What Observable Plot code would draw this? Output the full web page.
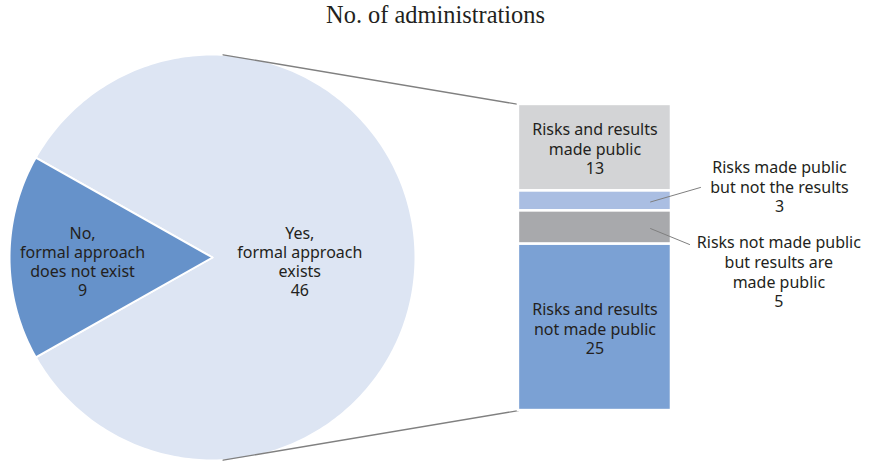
<!DOCTYPE html>
<html><head><meta charset="utf-8">
<script src="https://cdn.jsdelivr.net/npm/d3@7"></script>
<script src="https://cdn.jsdelivr.net/npm/@observablehq/plot@0.6"></script>
<style>
body{margin:0;background:#fff}
#title{font-family:"Liberation Serif","Times New Roman",serif;font-size:24.4px;line-height:30px;height:34px;text-align:center;color:#231f20;width:871px}
</style>
</head><body>
<div id="title">No. of administrations</div>
<div id="chart"></div>
<script>
// ---- data ----
const pieCategories = ["Yes,\nformal approach\nexists", "No,\nformal approach\ndoes not exist"];
const pieValues = [46, 9];
const pieColors = ["#dde5f3", "#6692ca"];

const barCategories = [
  "Risks and results\nmade public",
  "Risks made public\nbut not the results",
  "Risks not made public\nbut results are\nmade public",
  "Risks and results\nnot made public"
];
const barValues = [13, 3, 5, 25];
const barColors = ["#d3d4d6", "#aabee2", "#a8a9ac", "#7ba1d4"];

// ---- layout (units: pie radius = 1) ----
const W = 871, H = 428, Rpx = 203, cx = 212, cy = 223;
const barX1 = 1.507, barX2 = 2.261, barHalf = 0.754;
const pieLabelRadius = [0.43, 0.64];
const barLabelInside = [true, false, false, true];
const extLabelPos = [null, [2.793, -0.35], [2.79, 0.069], null];
const leaderEnd = [null, [2.404, -0.345], [2.35, -0.064], null];
const leaderStartX = 2.158;

// pie geometry
const total = d3.sum(pieValues);
const noSpan = 2 * Math.PI * pieValues[1] / total;
const sliceAngles = [
  [Math.PI + noSpan / 2, 3 * Math.PI - noSpan / 2],
  [Math.PI - noSpan / 2, Math.PI + noSpan / 2]
];
const piePts = [];
pieValues.forEach((v, i) => {
  const [a0, a1] = sliceAngles[i];
  const n = Math.max(8, Math.ceil((a1 - a0) / (2 * Math.PI) * 360));
  piePts.push({k: i, x: 0, y: 0, c: pieColors[i]});
  for (let j = 0; j <= n; j++) {
    const a = a0 + (a1 - a0) * j / n;
    piePts.push({k: i, x: Math.cos(a), y: Math.sin(a), c: pieColors[i]});
  }
  piePts.push({k: i, x: 0, y: 0, c: pieColors[i]});
});
const pieLabels = pieValues.map((v, i) => {
  const a = (sliceAngles[i][0] + sliceAngles[i][1]) / 2;
  return {x: pieLabelRadius[i] * Math.cos(a), y: pieLabelRadius[i] * Math.sin(a), t: pieCategories[i] + "\n" + v};
});

// bar geometry
const barTotal = d3.sum(barValues);
const unit = 2 * barHalf / barTotal;
let cum = 0;
const barRects = barValues.map((v, i) => {
  const r = {y1: -barHalf + cum * unit, y2: -barHalf + (cum + v) * unit, c: barColors[i], i};
  cum += v;
  return r;
});
const inLabels = barRects.filter((r, i) => barLabelInside[i]).map(r => ({
  x: (barX1 + barX2) / 2, y: (r.y1 + r.y2) / 2, t: barCategories[r.i] + "\n" + barValues[r.i]
}));
const outLabels = barRects.filter((r, i) => !barLabelInside[i]).map(r => ({
  x: extLabelPos[r.i][0], y: extLabelPos[r.i][1], t: barCategories[r.i] + "\n" + barValues[r.i]
}));
const leaders = [];
barRects.filter((r, i) => !barLabelInside[i]).forEach(r => {
  leaders.push({k: r.i, x: leaderStartX, y: (r.y1 + r.y2) / 2 + 0.005});
  leaders.push({k: r.i, x: leaderEnd[r.i][0], y: leaderEnd[r.i][1]});
});

// connectors
const ca = 87 * Math.PI / 180;
const connectors = [
  {k: 0, x: Math.cos(-ca), y: Math.sin(-ca)}, {k: 0, x: barX1, y: -barHalf},
  {k: 1, x: Math.cos(ca), y: Math.sin(ca)}, {k: 1, x: barX1, y: barHalf}
];

const font = "Noto Sans";
const txt = "#231f20";
const fs = 16;

const chart = Plot.plot({
  width: W, height: H,
  marginTop: 0, marginRight: 0, marginBottom: 0, marginLeft: 0,
  x: {domain: [-cx / Rpx, (W - cx) / Rpx], range: [0, W], axis: null},
  y: {domain: [-cy / Rpx, (H - cy) / Rpx], range: [0, H], axis: null},
  color: {type: "identity"},
  style: {fontFamily: font, background: "white"},
  marks: [
    Plot.line(piePts, {x: "x", y: "y", z: "k", fill: "c", stroke: "white", strokeWidth: 2, strokeLinejoin: "round"}),
    Plot.line(connectors, {x: "x", y: "y", z: "k", stroke: "#808080", strokeWidth: 1.3}),
    Plot.rect(barRects, {x1: () => barX1, x2: () => barX2, y1: "y1", y2: "y2", fill: "c", stroke: "white", strokeWidth: 2.5}),
    Plot.line(leaders, {x: "x", y: "y", z: "k", stroke: "#7f7f7f", strokeWidth: 1}),
    Plot.text(pieLabels, {x: "x", y: "y", text: "t", fontSize: fs, lineHeight: 1.2, fill: txt, dy: 4, fontFamily: font}),
    Plot.text(inLabels, {x: "x", y: "y", text: "t", fontSize: fs, lineHeight: 1.22, fill: txt, dy: 1, fontFamily: font}),
    Plot.text(outLabels, {x: "x", y: "y", text: "t", fontSize: fs, lineHeight: 1.22, fill: txt, fontFamily: font})
  ]
});
document.getElementById("chart").appendChild(chart);
</script>
</body></html>
